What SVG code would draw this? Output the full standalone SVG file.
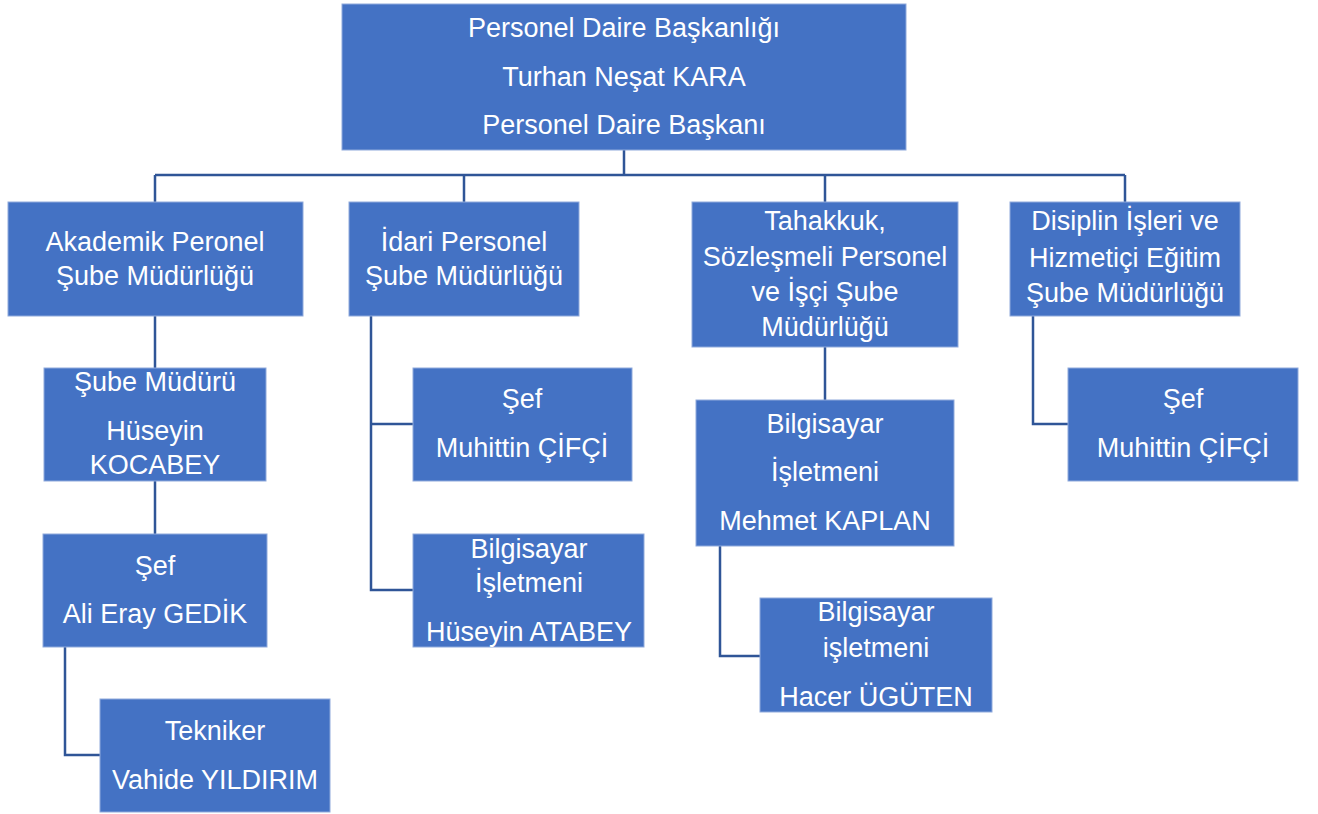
<svg xmlns="http://www.w3.org/2000/svg" width="1318" height="814" viewBox="0 0 1318 814">
<style>
.box{fill:#4472C4;stroke:#8FAADC;stroke-width:1}
.t{fill:#FFFFFF;font-family:"Liberation Sans",Arial,sans-serif;font-size:27px;text-anchor:middle;dominant-baseline:central}
.c{fill:none;stroke:#2F5597;stroke-width:2.5}
</style>
<rect width="1318" height="814" fill="#FFFFFF"/>
<g id="connectors">
<path class="c" d="M624,150 V175 M155,175 H1125 M155,175 V202 M464,175 V202 M825,175 V202 M1125,175 V202"/>
<path class="c" d="M155,316 V368 M155,481 V534 M65,647 V755 H100"/>
<path class="c" d="M371,316 V590 H413 M371,424 H413"/>
<path class="c" d="M825,347 V400 M720,546 V656 H760"/>
<path class="c" d="M1033,316 V424 H1068"/>
</g>
<g id="n-top"><rect class="box" x="342" y="4" width="564" height="146"/>
<text class="t" x="624" y="28">Personel Daire Başkanlığı</text><text class="t" x="624" y="77">Turhan Neşat KARA</text><text class="t" x="624" y="125">Personel Daire Başkanı</text></g>
<g id="n-akademik"><rect class="box" x="8" y="202" width="295" height="114"/>
<text class="t" x="155" y="242">Akademik Peronel</text><text class="t" x="155" y="276">Şube Müdürlüğü</text></g>
<g id="n-idari"><rect class="box" x="349" y="202" width="230" height="114"/>
<text class="t" x="464" y="242">İdari Personel</text><text class="t" x="464" y="276">Şube Müdürlüğü</text></g>
<g id="n-tahakkuk"><rect class="box" x="692" y="202" width="266" height="145"/>
<text class="t" x="825" y="221">Tahakkuk,</text><text class="t" x="825" y="257">Sözleşmeli Personel</text><text class="t" x="825" y="292">ve İşçi Şube</text><text class="t" x="825" y="327">Müdürlüğü</text></g>
<g id="n-disiplin"><rect class="box" x="1010" y="202" width="230" height="114"/>
<text class="t" x="1125" y="221">Disiplin İşleri ve</text><text class="t" x="1125" y="258">Hizmetiçi Eğitim</text><text class="t" x="1125" y="293">Şube Müdürlüğü</text></g>
<g id="n-kocabey"><rect class="box" x="44" y="368" width="222" height="113"/>
<text class="t" x="155" y="382">Şube Müdürü</text><text class="t" x="155" y="431">Hüseyin</text><text class="t" x="155" y="465">KOCABEY</text></g>
<g id="n-gedik"><rect class="box" x="43" y="534" width="224" height="113"/>
<text class="t" x="155" y="566">Şef</text><text class="t" x="155" y="614">Ali Eray GEDİK</text></g>
<g id="n-yildirim"><rect class="box" x="100" y="699" width="230" height="113"/>
<text class="t" x="215" y="731">Tekniker</text><text class="t" x="215" y="780">Vahide YILDIRIM</text></g>
<g id="n-cifci1"><rect class="box" x="413" y="368" width="219" height="113"/>
<text class="t" x="522" y="399">Şef</text><text class="t" x="522" y="448">Muhittin ÇİFÇİ</text></g>
<g id="n-atabey"><rect class="box" x="413" y="534" width="231" height="113"/>
<text class="t" x="529" y="549">Bilgisayar</text><text class="t" x="529" y="583">İşletmeni</text><text class="t" x="529" y="632">Hüseyin ATABEY</text></g>
<g id="n-kaplan"><rect class="box" x="696" y="400" width="258" height="146"/>
<text class="t" x="825" y="424">Bilgisayar</text><text class="t" x="825" y="472">İşletmeni</text><text class="t" x="825" y="521">Mehmet KAPLAN</text></g>
<g id="n-uguten"><rect class="box" x="760" y="598" width="232" height="114"/>
<text class="t" x="876" y="612">Bilgisayar</text><text class="t" x="876" y="648">işletmeni</text><text class="t" x="876" y="697">Hacer ÜGÜTEN</text></g>
<g id="n-cifci2"><rect class="box" x="1068" y="368" width="230" height="113"/>
<text class="t" x="1183" y="399">Şef</text><text class="t" x="1183" y="448">Muhittin ÇİFÇİ</text></g>
</svg>
